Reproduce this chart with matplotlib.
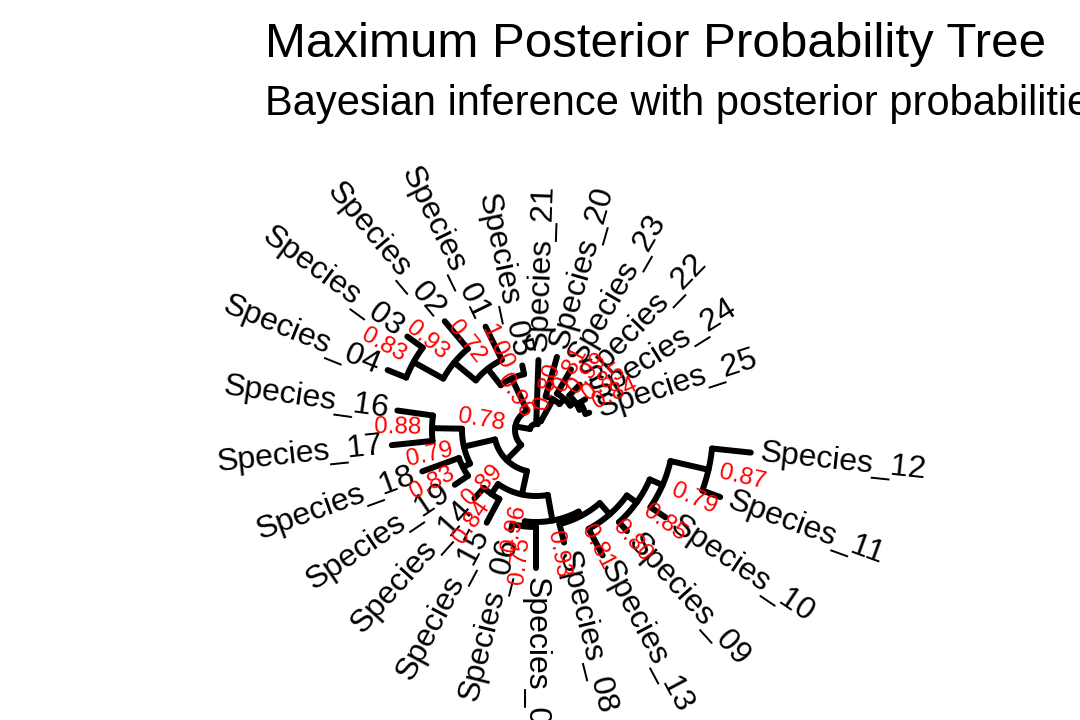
import numpy as np
import matplotlib.pyplot as plt

plt.rcParams['font.family'] = ['Liberation Sans', 'DejaVu Sans']

# tips in the order they run round the circle (counter-clockwise)
tips = ['Species_25', 'Species_24', 'Species_22', 'Species_23', 'Species_20', 'Species_21',
        'Species_05', 'Species_01', 'Species_02', 'Species_03', 'Species_04',
        'Species_16', 'Species_17', 'Species_18', 'Species_19', 'Species_14', 'Species_15',
        'Species_06', 'Species_07', 'Species_08', 'Species_13', 'Species_09', 'Species_10',
        'Species_11', 'Species_12']

# edge table (parent -> child, branch length)
parent = ['root', 'R', 'R', 'N20', 'N20', 'N23', 'N23', 'N22', 'N22', 'N24', 'N24',
          'root', 'Q', 'UL', 'UL', 'N01', 'N01', 'N02', 'N02', 'N03', 'N03',
          'Q', 'L', 'LL', 'N16', 'N16', 'LL', 'N18', 'N18',
          'L', 'M', 'N14', 'N14', 'M', 'BR2', 'N06', 'N06', 'BR2', 'N08', 'N08',
          'N13', 'N13', 'N09', 'N09', 'N10', 'N10', 'N11', 'N11']
child = ['R', 'Species_21', 'N20', 'Species_20', 'N23', 'Species_23', 'N22', 'Species_22', 'N24',
         'Species_24', 'Species_25',
         'Q', 'UL', 'Species_05', 'N01', 'Species_01', 'N02', 'Species_02', 'N03',
         'Species_03', 'Species_04',
         'L', 'LL', 'N16', 'Species_16', 'Species_17', 'N18', 'Species_18', 'Species_19',
         'M', 'N14', 'Species_14', 'Species_15', 'BR2', 'N06', 'Species_06', 'Species_07',
         'N08', 'Species_08', 'N13', 'Species_13', 'N09', 'Species_09', 'N10',
         'Species_10', 'N11', 'Species_11', 'Species_12']
blen = [0.010, 0.150, 0.0625, 0.1025, 0.0175, 0.070, 0.015, 0.0375, 0.010, 0.015, 0.010,
        0.0375, 0.090, 0.0225, 0.0525, 0.0925, 0.070, 0.090, 0.085, 0.0475, 0.050,
        0.0525, 0.080, 0.075, 0.090, 0.1025, 0.020, 0.0975, 0.040,
        0.060, 0.030, 0.035, 0.0675, 0.065, 0.0125, 0.015, 0.1025, 0.0125, 0.0475, 0.0375,
        0.075, 0.030, 0.030, 0.035, 0.045, 0.0975, 0.0475, 0.0975]

# posterior probabilities of internal nodes
nodes = ['root', 'R', 'N20', 'N23', 'N22', 'N24', 'Q', 'UL', 'N01', 'N02', 'N03',
         'L', 'LL', 'N16', 'N18', 'M', 'N14', 'BR2', 'N06', 'N08', 'N13', 'N09', 'N10', 'N11']
support = [0.96, 0.80, 0.81, 0.99, 0.85, 0.84, 0.78, 1.00, 0.72, 0.93, 0.83,
           0.89, 0.79, 0.88, 0.83, 0.96, 0.84, 0.93, 0.75, 0.81, 0.80, 0.85, 0.79, 0.87]

# layout
angle_start, angle_step = 18.0, 14.0
px_per_unit, root_r = 400, 6
cx, cy = 536, 430

kids = {}
for p, c, b in zip(parent, child, blen):
    kids.setdefault(p, []).append((c, b))

depth = {'root': 0.0}
def set_depth(n):
    for c, b in kids.get(n, []):
        depth[c] = depth[n] + b
        set_depth(c)
set_depth('root')

ang = {t: angle_start + i * angle_step for i, t in enumerate(tips)}
def set_angle(n):
    if n in ang:
        return ang[n]
    ang[n] = np.mean([set_angle(c) for c, b in kids[n]])
    return ang[n]
set_angle('root')

rad = {n: root_r + d * px_per_unit for n, d in depth.items()}

fig = plt.figure(figsize=(10.8, 7.2), dpi=100)
ax = fig.add_axes([0, 0, 1, 1])
ax.set_xlim(-cx, 1080 - cx)
ax.set_ylim(-(720 - cy), cy)
ax.set_aspect('equal')
ax.axis('off')

lw = 4.3
for n, cl in kids.items():
    a = [ang[c] for c, b in cl]
    t = np.radians(np.linspace(min(a), max(a), 60))
    ax.plot(rad[n] * np.cos(t), rad[n] * np.sin(t), color='black', lw=lw,
            solid_capstyle='round')
    for c, b in cl:
        th = np.radians(ang[c])
        ax.plot([rad[n] * np.cos(th), rad[c] * np.cos(th)],
                [rad[n] * np.sin(th), rad[c] * np.sin(th)], color='black', lw=lw,
                solid_capstyle='round')

def radial_text(name, r, txt, size, color):
    a = ang[name] % 360
    th = np.radians(a)
    if 90 < a < 270:
        rot, ha = a - 180, 'right'
    else:
        rot, ha = (a - 360 if a > 270 else a), 'left'
    ax.text(r * np.cos(th), r * np.sin(th), txt, rotation=rot, ha=ha, va='center',
            rotation_mode='anchor', fontsize=size, color=color)

for t in tips:
    radial_text(t, rad[t] + 9, t, 23, 'black')
for n, s in zip(nodes, support):
    radial_text(n, rad[n] + 11, '%.2f' % s, 17.5, 'red')

fig.text(265 / 1080, 1 - 57 / 720, 'Maximum Posterior Probability Tree', fontsize=35.5,
         ha='left', va='baseline')
fig.text(265 / 1080, 1 - 115 / 720, 'Bayesian inference with posterior probabilities',
         fontsize=30, ha='left', va='baseline')

fig.savefig('out.png', dpi=100)
